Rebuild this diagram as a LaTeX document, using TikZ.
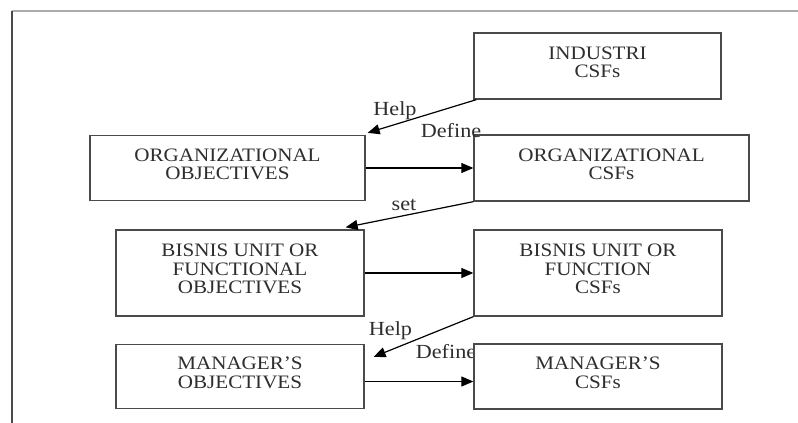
\documentclass[tikz,border=0pt]{standalone}
\usepackage{fontspec}
\setmainfont{Liberation Serif}[FakeStretch=1.11]
\usetikzlibrary{arrows.meta}
\definecolor{txt}{HTML}{2E2E2E}
\definecolor{edge}{HTML}{4A4A4A}
\tikzset{
  box/.style={draw=edge, line width=1.3pt, fill=white, rectangle, align=center, text=txt,
    font=\fontsize{19}{18.5}\selectfont, inner sep=0pt},
  arr/.style={draw=black, line width=1.2pt, -{Triangle[length=12pt,width=10pt]}},
  lbl/.style={text=txt, font=\fontsize{20}{20}\selectfont, inner sep=0pt, anchor=base},
}
\newcommand{\lowpad}{\rule[-8pt]{0pt}{8pt}}
\begin{document}
\begin{tikzpicture}[x=1pt,y=-1pt]
\useasboundingbox (0,0) rectangle (798,423);
% frame
\coordinate (fl) at (12,423);
\coordinate (fc) at (12,11);
\coordinate (fr) at (798,11);
\draw[color=gray!65, line width=2pt] (fc) -- (fr);
\draw[color=edge, line width=1.5pt] (fl) -- (fc);

% label drawn before the box that hides its end
\node[lbl] (define2) at (446,358) {Define};

\node[box, minimum width=247pt, minimum height=66pt] (ind) at (597.5,66) {INDUSTRI\\CSFs\lowpad};
\node[box, minimum width=275pt, minimum height=65pt] (oo) at (227.5,168) {ORGANIZATIONAL\\OBJECTIVES\lowpad};
\node[box, minimum width=275pt, minimum height=66pt] (oc) at (611.5,168) {ORGANIZATIONAL\\CSFs\lowpad};
\node[box, minimum width=248pt, minimum height=86pt] (bo) at (240,273) {BISNIS UNIT OR\\FUNCTIONAL\\OBJECTIVES\lowpad};
\node[box, minimum width=248pt, minimum height=86pt] (bc) at (598,273) {BISNIS UNIT OR\\FUNCTION\\CSFs\lowpad};
\node[box, minimum width=248pt, minimum height=64pt] (mo) at (240,376.5) {MANAGER'S\\OBJECTIVES\lowpad};
\node[box, minimum width=248pt, minimum height=65pt] (mc) at (598,376.5) {MANAGER'S\\CSFs\lowpad};

% connectors
\draw[arr] ([xshift=3pt]ind.south west) -- ([xshift=2pt,yshift=2pt]oo.north east);
\draw[arr] (oo.east) -- (oc.west);
\draw[arr] (oc.south west) -- ([xshift=-19pt,yshift=2pt]bo.north east);
\draw[arr] (bo.east) -- (bc.west);
\draw[arr] (bc.south west) -- ([xshift=9pt,yshift=-13pt]mo.north east);
\draw[arr] ([yshift=-5pt]mo.east) -- ([yshift=-5pt]mc.west);

% labels
\node[lbl] (help1) at (395,115) {Help};
\node[lbl] (define1) at (451,137) {Define};
\node[lbl] (set) at (404,210) {set};
\node[lbl] (help2) at (390.5,335) {Help};
\end{tikzpicture}
\end{document}
